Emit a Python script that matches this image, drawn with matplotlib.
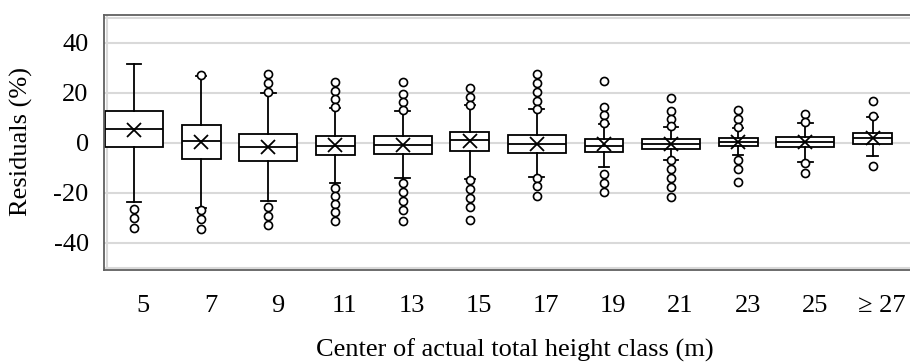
import numpy as np
import matplotlib
matplotlib.use("Agg")
import matplotlib.pyplot as plt

plt.rcParams['font.family'] = ['Liberation Serif', 'DejaVu Serif']

# ---- data ----
categories = ["5", "7", "9", "11", "13", "15", "17", "19", "21", "23", "25", "\u2265 27"]
q1     = [-1.7, -6.6, -7.2, -5.0, -4.4, -3.4, -4.0, -3.6, -2.3, -1.3, -1.7, -0.4]
median = [ 5.7,  0.8, -1.7, -1.2, -1.0,  1.1, -0.4, -1.2, -0.5,  0.3,  0.4,  1.9]
q3     = [12.7,  7.0,  3.7,  2.7,  2.7,  4.2,  3.2,  1.4,  1.4,  1.9,  2.5,  4.0]
whislo = [-23.8, -26.1, -23.3, -16.2, -14.1, -14.5, -13.8, -9.6, -6.9, -5.0, -7.6, -5.3]
whishi = [31.7, 26.9, 20.0, 14.0, 12.7, 15.0, 13.4, 7.7, 6.3, 5.9, 8.0, 10.4]
means  = [ 5.1,  0.4, -1.5, -0.9, -1.0,  0.7, -0.3, -0.5, -0.3,  0.5,  0.5,  2.0]
fliers = [
    [-26.3, -29.9, -34.1],
    [27.3, -27.0, -30.5, -34.3],
    [27.5, 23.8, 20.5, -25.6, -29.2, -32.8],
    [24.4, 20.8, 17.4, 14.3, -18.0, -21.2, -24.5, -27.8, -31.3],
    [24.3, 19.7, 16.3, 13.0, -16.2, -19.8, -23.3, -26.8, -31.1],
    [22.0, 18.4, 15.2, -15.0, -18.6, -22.1, -25.6, -30.7],
    [27.7, 24.0, 20.5, 16.8, 13.6, -14.0, -17.3, -21.2],
    [24.7, 14.4, 11.2, 8.0, -12.5, -16.0, -19.5],
    [18.0, 12.9, 9.5, 6.6, -7.0, -10.5, -14.0, -17.8, -21.6],
    [13.1, 9.5, 6.2, -7.0, -10.5, -15.7],
    [11.7, 8.3, -8.0, -12.1],
    [16.7, 10.6, -9.3],
]
yticks = [-40, -20, 0, 20, 40]

# ---- figure ----
fig = plt.figure(figsize=(9.1, 3.63), dpi=100)
ax = fig.add_axes([104/910, 1-270/363, 808/910, 255/363])

positions = np.arange(1, len(categories) + 1)
wide, narrow = 0.864, 0.58
widths = [wide if i % 2 == 0 else narrow for i in range(len(categories))]
capw = [0.22 if i % 2 == 0 else 0.15 for i in range(len(categories))]

stats = []
for i in range(len(categories)):
    stats.append(dict(med=median[i], q1=q1[i], q3=q3[i], whislo=whislo[i],
                      whishi=whishi[i], mean=means[i], fliers=fliers[i]))

lw = 1.3
ax.bxp(stats, positions=positions, widths=widths, capwidths=capw,
       showmeans=True, patch_artist=True, manage_ticks=False,
       boxprops=dict(facecolor='white', edgecolor='black', linewidth=lw),
       medianprops=dict(color='black', linewidth=lw),
       whiskerprops=dict(color='black', linewidth=lw),
       capprops=dict(color='black', linewidth=lw),
       meanprops=dict(marker='x', markersize=10.5, markeredgecolor='black',
                      markeredgewidth=1.3),
       flierprops=dict(marker='o', markersize=5.8, markerfacecolor='white',
                       markeredgecolor='black', markeredgewidth=1.2))

ax.set_xlim(0.553, 12.588)
ax.set_ylim(-50.9, 51.1)
ax.set_yticks(yticks)
ax.set_yticklabels([str(v) for v in yticks], fontsize=19)
ax.yaxis.grid(True, color='#d9d9d9', linewidth=1.5)
for yv in (-50, 50):
    ax.axhline(yv, color='#d9d9d9', linewidth=1.5, zorder=0)
ax.axvline(0.6, color='#d9d9d9', linewidth=1.5, zorder=0)
ax.set_axisbelow(True)

# category labels sit slightly right of the box centres, as in the reference
label_shift = 0.14
ax.set_xticks(positions + label_shift)
ax.set_xticklabels(categories, fontsize=19)

ax.tick_params(axis='both', length=0)
ax.tick_params(axis='x', pad=18)
ax.tick_params(axis='y', pad=11)

for s in ('top', 'left', 'bottom'):
    ax.spines[s].set_color('#606060')
    ax.spines[s].set_linewidth(1.3)
ax.spines['right'].set_visible(False)

fig.text(21.7/910, 1-141.7/363, "Residuals (%)", rotation=90,
         ha='center', va='center', fontsize=19)
fig.text(514.5/910, 6.5/363, "Center of actual total height class (m)",
         ha='center', va='baseline', fontsize=19)

fig.savefig("out.png", dpi=100)
